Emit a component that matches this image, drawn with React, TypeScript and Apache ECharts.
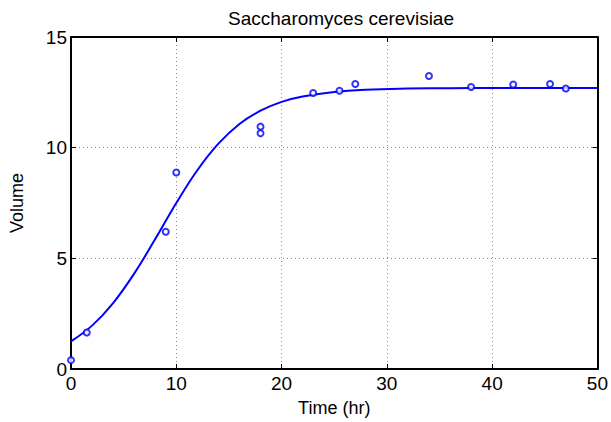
import React, { useEffect, useRef } from "react";
import * as echarts from "echarts";

const obsTime = [0, 1.5, 9, 10, 18, 18, 23, 25.5, 27, 34, 38, 42, 45.5, 47];
const obsVolume = [0.4, 1.65, 6.2, 8.88, 10.65, 10.95, 12.47, 12.57, 12.88, 13.24, 12.74, 12.85, 12.88, 12.67];

const fitTime = [0, 2, 4, 6, 8, 10, 12, 14, 16, 18, 20, 22, 25, 28, 32, 36, 40, 45, 50];
const fitVolume = [1.25, 1.96, 2.98, 4.31, 5.87, 7.5, 8.98, 10.18, 11.07, 11.67, 12.07, 12.31, 12.52, 12.62, 12.67, 12.69, 12.7, 12.7, 12.7];

const xTicks = { min: 0, max: 50, interval: 10 };
const yTicks = { min: 0, max: 15, interval: 5 };

const FONT = "'Liberation Sans', Arial, sans-serif";
const BLUE = "#0000ff";

export default function App() {
  const ref = useRef<HTMLDivElement>(null);
  useEffect(() => {
    if (!ref.current) return;
    const chart = echarts.init(ref.current, undefined, { renderer: "svg" });
    const axisCommon = {
      type: "value" as const,
      axisLine: { show: true, onZero: false, lineStyle: { color: "#000", width: 2 } },
      axisTick: { show: true, inside: true, length: 5, lineStyle: { color: "#000", width: 1 } },
    };
    chart.setOption({
      animation: false,
      backgroundColor: "#fff",
      title: {
        text: "Saccharomyces cerevisiae",
        left: 336,
        top: 4,
        textAlign: "center",
        textStyle: { fontFamily: FONT, fontSize: 19, fontWeight: "normal", color: "#000" },
      },
      grid: { left: 71, right: 10, top: 37, bottom: 49 },
      xAxis: [
        {
          ...axisCommon,
          position: "bottom",
          min: xTicks.min,
          max: xTicks.max,
          interval: xTicks.interval,
          name: "Time (hr)",
          nameLocation: "middle",
          nameGap: 30,
          nameTextStyle: { fontFamily: FONT, fontSize: 18, color: "#000" },
          axisLabel: { fontFamily: FONT, fontSize: 19, color: "#000", margin: 5 },
          splitLine: { show: true, lineStyle: { color: "#888", type: [1, 3], width: 1 } },
        },
        {
          ...axisCommon,
          position: "top",
          min: xTicks.min,
          max: xTicks.max,
          interval: xTicks.interval,
          axisLabel: { show: false },
          splitLine: { show: false },
        },
      ],
      yAxis: [
        {
          ...axisCommon,
          position: "left",
          min: yTicks.min,
          max: yTicks.max,
          interval: yTicks.interval,
          name: "Volume",
          nameLocation: "middle",
          nameGap: 45,
          nameTextStyle: { fontFamily: FONT, fontSize: 18, color: "#000" },
          axisLabel: { fontFamily: FONT, fontSize: 19, color: "#000", margin: 4 },
          splitLine: { show: true, lineStyle: { color: "#888", type: [1, 3], width: 1 } },
        },
        {
          ...axisCommon,
          position: "right",
          min: yTicks.min,
          max: yTicks.max,
          interval: yTicks.interval,
          axisLabel: { show: false },
          splitLine: { show: false },
        },
      ],
      series: [
        {
          type: "line",
          data: fitTime.map((t, i) => [t, fitVolume[i]]),
          smooth: 0.4,
          showSymbol: false,
          lineStyle: { color: BLUE, width: 2 },
          z: 2,
        },
        {
          type: "scatter",
          data: obsTime.map((t, i) => [t, obsVolume[i]]),
          symbol: "circle",
          symbolSize: 6,
          itemStyle: { color: "#fff", borderColor: BLUE, borderWidth: 2 },
          z: 3,
        },
      ],
    });
    return () => chart.dispose();
  }, []);
  return (
    <div
      ref={ref}
      style={{ position: "fixed", left: 0, top: 0, width: 611, height: 422 }}
    />
  );
}
